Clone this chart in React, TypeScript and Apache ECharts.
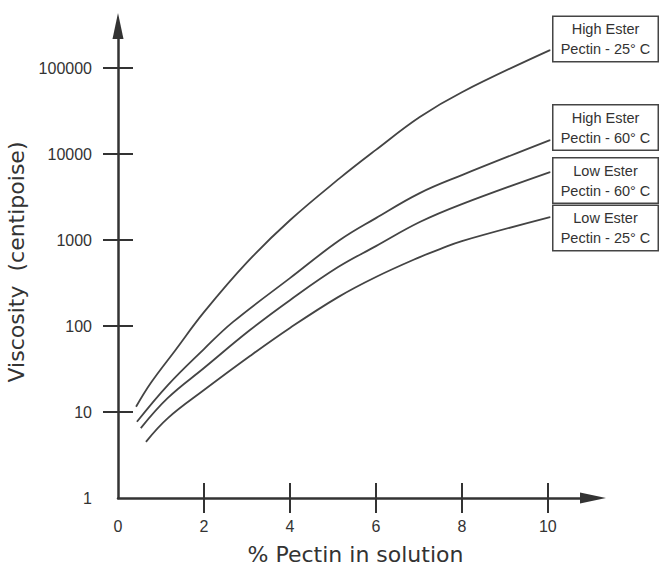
import { useEffect, useRef } from 'react';
import * as echarts from 'echarts';

// ---- data ----
const seriesNames = [
  'High Ester\nPectin - 25° C',
  'High Ester\nPectin - 60° C',
  'Low Ester\nPectin - 60° C',
  'Low Ester\nPectin - 25° C',
];

const xHE25 = [0.42, 0.77, 1.33, 2, 3, 4, 5.16, 6, 7.02, 8, 10.05];
const yHE25 = [11.5, 22, 52, 145, 550, 1700, 5250, 11200, 27000, 52500, 162000];

const xHE60 = [0.44, 1.16, 2, 2.67, 4, 5.16, 6, 7.02, 8, 10.05];
const yHE60 = [7.7, 20.6, 54, 111, 361, 1000, 1800, 3520, 5700, 14550];

const xLE60 = [0.53, 1.16, 2, 3.07, 4, 5.12, 6, 7.02, 8, 10.05];
const yLE60 = [6.5, 14.6, 32.5, 89.8, 200, 485, 850, 1620, 2620, 6180];

const xLE25 = [0.65, 1.16, 2, 3.07, 4, 5.12, 6, 7.02, 7.49, 8, 10.05];
const yLE25 = [4.5, 8.5, 18, 44.8, 95, 217, 372, 634, 785, 973, 1850];

const xTickValues = [0, 2, 4, 6, 8, 10];
const yTickValues = [1, 10, 100, 1000, 10000, 100000];

const xTitle = '% Pectin in solution';
const yTitle = 'Viscosity  (centipoise)';

// ---- styles (kept apart from data) ----
const labelOffsetY = [-11, -12.5, 8.5, 11];
const INK = '#333';
const LINE = '#444';

export default function App() {
  const ref = useRef<HTMLDivElement>(null);

  useEffect(() => {
    if (!ref.current) return;
    const chart = echarts.init(ref.current, null, { renderer: 'svg' });

    const xs = [xHE25, xHE60, xLE60, xLE25];
    const ys = [yHE25, yHE60, yLE60, yLE25];

    const xMax = 11.05;
    const yMaxLog = 5.49;

    const yLogTicks = yTickValues.map((v) => Math.log10(v));

    const tickStyle = { color: INK, width: 2 };

    const series = xs.map((xArr, s) => {
      const last = xArr.length - 1;
      const data = xArr.map((x, i) => {
        const v = [x, Math.log10(ys[s][i])];
        if (i !== last) return v;
        return {
          value: v,
          symbol: 'circle',
          symbolSize: 1,
          label: {
            show: true,
            position: 'right',
            distance: 0,
            offset: [55, labelOffsetY[s]],
            formatter: () => seriesNames[s],
            align: 'center',
            verticalAlign: 'middle',
            width: 90,
            fontSize: 14.5,
            lineHeight: 20,
            fontFamily: 'Liberation Sans, Arial, sans-serif',
            color: INK,
            backgroundColor: '#fff',
            borderColor: LINE,
            borderWidth: 1.5,
            padding: [2, 7],
          },
        };
      });
      return {
        type: 'line',
        name: seriesNames[s],
        data,
        smooth: 0.4,
        symbol: 'none',
        showSymbol: true,
        clip: false,
        silent: true,
        lineStyle: { color: LINE, width: 1.8 },
        itemStyle: { color: LINE },
      };
    });

    const option: any = {
      animation: false,
      backgroundColor: '#fff',
      grid: { left: 118, right: 69, top: 26, bottom: 70, containLabel: false, outerBoundsMode: 'none' },
      xAxis: [
        {
          type: 'value',
          min: 0,
          max: xMax,
          position: 'bottom',
          axisLine: {
            show: true,
            onZero: false,
            symbol: ['none', 'triangle'],
            symbolSize: [11, 26],
            lineStyle: { color: INK, width: 2.5 },
          },
          axisTick: {
            show: true,
            inside: false,
            length: 15,
            customValues: xTickValues.filter((v) => v > 0),
            lineStyle: tickStyle,
          },
          axisLabel: {
            customValues: xTickValues,
            margin: 20,
            fontSize: 16,
            color: INK,
            fontFamily: 'Liberation Sans, Arial, sans-serif',
          },
          splitLine: { show: false },
          name: xTitle,
          nameLocation: 'middle',
          nameGap: 45,
          nameTextStyle: { fontSize: 22, color: INK, fontFamily: 'DejaVu Sans, sans-serif' },
        },
        {
          type: 'value',
          min: 0,
          max: xMax,
          position: 'bottom',
          axisLine: { show: false, onZero: false },
          axisTick: {
            show: true,
            inside: true,
            length: 15,
            customValues: xTickValues.filter((v) => v > 0),
            lineStyle: tickStyle,
          },
          axisLabel: { show: false },
          splitLine: { show: false },
        },
      ],
      yAxis: [
        {
          type: 'value',
          min: 0,
          max: yMaxLog,
          position: 'left',
          axisLine: {
            show: true,
            onZero: false,
            symbol: ['none', 'triangle'],
            symbolSize: [11, 26],
            lineStyle: { color: INK, width: 2.5 },
          },
          axisTick: {
            show: true,
            inside: false,
            length: 15,
            customValues: yLogTicks.filter((v) => v > 0),
            lineStyle: tickStyle,
          },
          axisLabel: {
            customValues: yLogTicks,
            margin: 26,
            fontSize: 16,
            color: INK,
            fontFamily: 'Liberation Sans, Arial, sans-serif',
            formatter: (v: number) => {
              const idx = yLogTicks.findIndex((t) => Math.abs(t - v) < 1e-6);
              return idx >= 0 ? String(yTickValues[idx]) : '';
            },
          },
          splitLine: { show: false },
          name: yTitle,
          nameLocation: 'middle',
          nameGap: 82,
          nameTextStyle: { fontSize: 22, color: INK, fontFamily: 'DejaVu Sans, sans-serif' },
        },
        {
          type: 'value',
          min: 0,
          max: yMaxLog,
          position: 'left',
          axisLine: { show: false, onZero: false },
          axisTick: {
            show: true,
            inside: true,
            length: 15,
            customValues: yLogTicks.filter((v) => v > 0),
            lineStyle: tickStyle,
          },
          axisLabel: { show: false },
          splitLine: { show: false },
        },
      ],
      series,
    };

    chart.setOption(option);
    return () => chart.dispose();
  }, []);

  return (
    <div
      ref={ref}
      style={{ position: 'fixed', left: 0, top: 0, width: 662, height: 568, background: '#fff' }}
    />
  );
}
